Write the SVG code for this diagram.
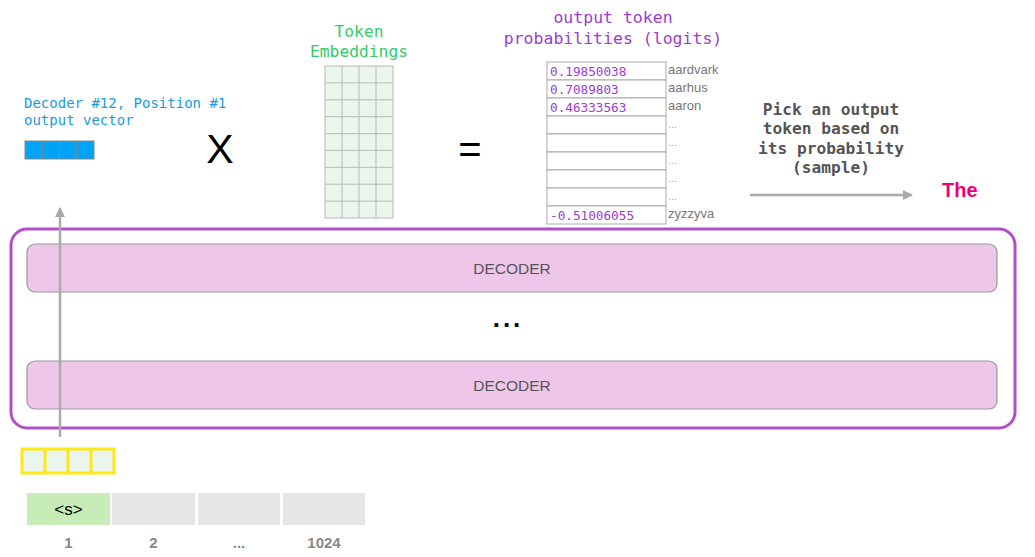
<svg xmlns="http://www.w3.org/2000/svg" width="1035" height="557" viewBox="0 0 1035 557">
<style>
.mono{font-family:"DejaVu Sans Mono","Liberation Mono",monospace}
.sans{font-family:"Liberation Sans",Arial,sans-serif}
.cell{fill:#eaf6ec;stroke:#b4bcb4;stroke-width:1}
.row{fill:#fff;stroke:#aaa;stroke-width:1}
.num{font-size:12.7px;fill:#9a3dd0}
.lbl{font-size:13px;fill:#777}
.dots{font-size:11px;fill:#aaa}
.dec{fill:#edc6ea;stroke:#999;stroke-width:1.2}
.dectext{font-size:15.5px;fill:#555}
.tok{fill:#e6e6e6}
.pos{font-size:15px;fill:#888;font-weight:bold}
</style>
<defs>
<marker id="ah" viewBox="0 0 10 10" refX="9" refY="5" markerWidth="4" markerHeight="4" orient="auto" markerUnits="strokeWidth">
<path d="M0,0 L10,5 L0,10 z" fill="#aaa"/>
</marker>
</defs>

<g id="output-vector">
<text class="mono" x="24" y="108" font-size="14" fill="#1a9be0">Decoder #12, Position #1</text>
<text class="mono" x="24" y="125" font-size="14" fill="#1a9be0">output vector</text>
<rect x="25" y="141" width="69" height="18" fill="#00a3f5" stroke="#888" stroke-width="1"/>
<line x1="42.25" y1="141" x2="42.25" y2="159" stroke="#888"/>
<line x1="59.5" y1="141" x2="59.5" y2="159" stroke="#888"/>
<line x1="76.75" y1="141" x2="76.75" y2="159" stroke="#888"/>
</g>

<g id="times">
<text class="sans" x="220" y="163" font-size="41" text-anchor="middle" fill="#000">X</text>
</g>

<g id="token-embeddings">
<text class="mono" x="359" y="37" font-size="16.3" fill="#33cc66" text-anchor="middle">Token</text>
<text class="mono" x="359" y="57" font-size="16.3" fill="#33cc66" text-anchor="middle">Embeddings</text>
<rect class="cell" x="325" y="66" width="68" height="152"/>
<g stroke="#b4bcb4" stroke-width="1">
<line x1="342" y1="66" x2="342" y2="218"/>
<line x1="359" y1="66" x2="359" y2="218"/>
<line x1="376" y1="66" x2="376" y2="218"/>
<line x1="325" y1="82.9" x2="393" y2="82.9"/>
<line x1="325" y1="99.8" x2="393" y2="99.8"/>
<line x1="325" y1="116.7" x2="393" y2="116.7"/>
<line x1="325" y1="133.6" x2="393" y2="133.6"/>
<line x1="325" y1="150.4" x2="393" y2="150.4"/>
<line x1="325" y1="167.3" x2="393" y2="167.3"/>
<line x1="325" y1="184.2" x2="393" y2="184.2"/>
<line x1="325" y1="201.1" x2="393" y2="201.1"/>
</g>
</g>

<g id="equals">
<text class="sans" x="470" y="163" font-size="40" text-anchor="middle" fill="#000">=</text>
</g>

<g id="logits">
<text class="mono" x="613" y="23" font-size="16.5" fill="#9a3dd0" text-anchor="middle">output token</text>
<text class="mono" x="613" y="44" font-size="16.5" fill="#9a3dd0" text-anchor="middle">probabilities (logits)</text>
<rect class="row" x="547" y="62" width="119" height="18"/>
<rect class="row" x="547" y="80" width="119" height="18"/>
<rect class="row" x="547" y="98" width="119" height="18"/>
<rect class="row" x="547" y="116" width="119" height="18"/>
<rect class="row" x="547" y="134" width="119" height="18"/>
<rect class="row" x="547" y="152" width="119" height="18"/>
<rect class="row" x="547" y="170" width="119" height="18"/>
<rect class="row" x="547" y="188" width="119" height="18"/>
<rect class="row" x="547" y="206" width="119" height="18"/>
<text class="mono num" x="550" y="75.5">0.19850038</text>
<text class="mono num" x="550" y="93.5">0.7089803</text>
<text class="mono num" x="550" y="111.5">0.46333563</text>
<text class="mono num" x="550" y="220">-0.51006055</text>
<text class="sans lbl" x="668" y="74">aardvark</text>
<text class="sans lbl" x="668" y="92">aarhus</text>
<text class="sans lbl" x="668" y="110">aaron</text>
<text class="sans dots" x="668" y="128">...</text>
<text class="sans dots" x="668" y="146">...</text>
<text class="sans dots" x="668" y="164">...</text>
<text class="sans dots" x="668" y="182">...</text>
<text class="sans dots" x="668" y="200">...</text>
<text class="sans lbl" x="668" y="218">zyzzyva</text>
</g>

<g id="sample-label">
<text class="mono" x="831" y="115" font-size="16.2" font-weight="bold" fill="#555" text-anchor="middle">Pick an output</text>
<text class="mono" x="831" y="134" font-size="16.2" font-weight="bold" fill="#555" text-anchor="middle">token based on</text>
<text class="mono" x="831" y="154" font-size="16.2" font-weight="bold" fill="#555" text-anchor="middle">its probability</text>
<text class="mono" x="831" y="173" font-size="16.2" font-weight="bold" fill="#555" text-anchor="middle">(sample)</text>
</g>

<g id="output-token">
<text class="sans" x="942" y="197" font-size="20" font-weight="bold" fill="#ee0077">The</text>
</g>

<g id="decoder-stack">
<rect x="11" y="229" width="1004" height="199" rx="16" fill="none" stroke="#b050c8" stroke-width="3"/>
</g>
<g id="decoder-1">
<rect class="dec" x="27" y="244" width="970" height="48" rx="8"/>
<text class="sans dectext" x="512" y="274" text-anchor="middle">DECODER</text>
</g>
<g id="ellipsis">
<text class="sans" x="508" y="327" font-size="26" font-weight="bold" letter-spacing="3" fill="#000" text-anchor="middle">...</text>
</g>
<g id="decoder-2">
<rect class="dec" x="27" y="361" width="970" height="48" rx="8"/>
<text class="sans dectext" x="512" y="391" text-anchor="middle">DECODER</text>
</g>

<g id="connectors">
<line x1="60" y1="437" x2="60" y2="208" stroke="#aaa" stroke-width="2.5" marker-end="url(#ah)"/>
<line x1="750" y1="195" x2="912" y2="195" stroke="#aaa" stroke-width="2.5" marker-end="url(#ah)"/>
</g>

<g id="input-vector">
<rect x="22" y="449" width="92" height="24" fill="#eaf6ec" stroke="#ffe81a" stroke-width="3"/>
<line x1="45" y1="449" x2="45" y2="473" stroke="#ffe81a" stroke-width="3"/>
<line x1="68" y1="449" x2="68" y2="473" stroke="#ffe81a" stroke-width="3"/>
<line x1="91" y1="449" x2="91" y2="473" stroke="#ffe81a" stroke-width="3"/>
</g>

<g id="tokens">
<rect x="27" y="493" width="83" height="32" fill="#c8ecb8"/>
<rect class="tok" x="112" y="493" width="83" height="32"/>
<rect class="tok" x="198" y="493" width="82" height="32"/>
<rect class="tok" x="283" y="493" width="82" height="32"/>
<text class="sans" x="68.5" y="515" font-size="17" fill="#000" text-anchor="middle">&lt;s&gt;</text>
<text class="sans pos" x="68.5" y="548" text-anchor="middle">1</text>
<text class="sans pos" x="153.5" y="548" text-anchor="middle">2</text>
<text class="sans pos" x="239" y="548" text-anchor="middle">...</text>
<text class="sans pos" x="324" y="548" text-anchor="middle">1024</text>
</g>
</svg>
